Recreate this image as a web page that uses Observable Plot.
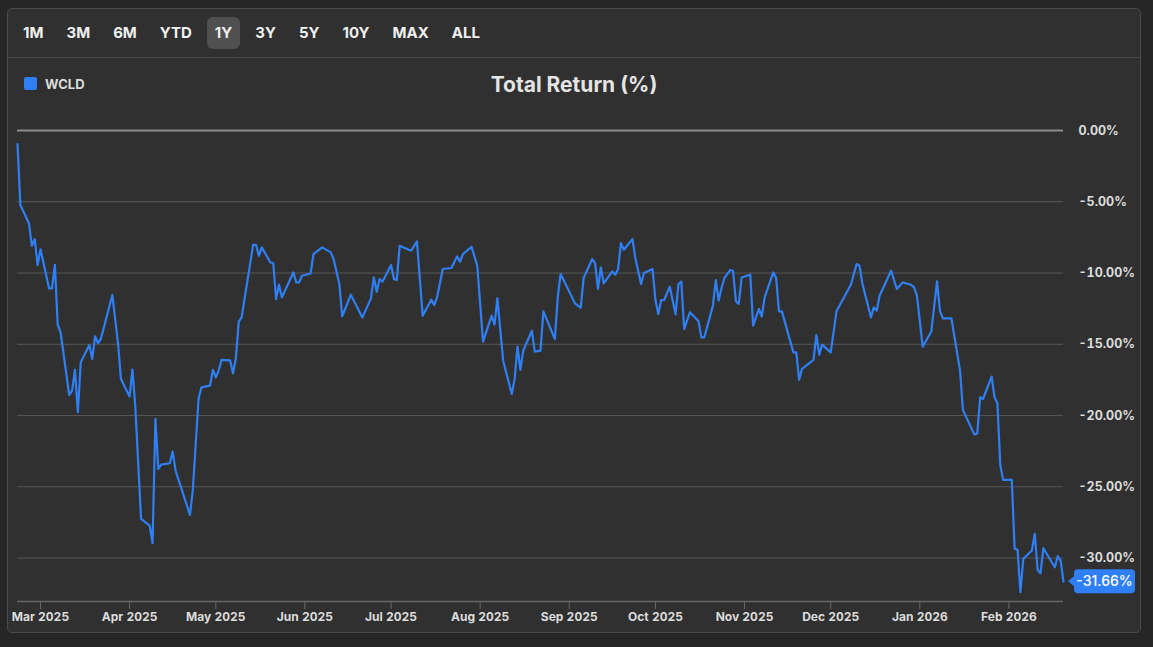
<!DOCTYPE html>
<html>
<head>
<meta charset="utf-8">
<script src="https://cdn.jsdelivr.net/npm/d3@7"></script>
<script src="https://cdn.jsdelivr.net/npm/@observablehq/plot@0.6"></script>
<style>
html,body{margin:0;padding:0;background:#262626;width:1153px;height:647px;overflow:hidden;font-family:Inter,"Noto Sans",sans-serif;}
#panel{position:absolute;left:7px;top:8px;width:1132px;height:623px;background:#303030;border:1px solid #4a4a4a;border-radius:5px;}
#toolbar{position:absolute;left:0;top:0;width:100%;height:48px;border-bottom:1px solid #464646;}
#buttons{position:absolute;left:7px;top:8px;display:flex;gap:7px;}
.btn{height:32px;line-height:32px;padding:0 8px;border-radius:6px;color:#f0f0f0;font-weight:700;font-size:15px;}
.btn.active{background:#505050;}
#legend{position:absolute;left:16px;top:68px;height:13px;display:flex;align-items:center;gap:8px;color:#dcdcdc;font-weight:700;font-size:13px;}
#legend .sw{width:13px;height:13px;border-radius:2px;background:#2f7ff6;}
#title{position:absolute;left:0;width:100%;top:64px;line-height:24px;text-align:center;font-size:21px;font-weight:700;color:#e4e4e4;}
#chart{position:absolute;left:0;top:110px;}
#chart svg text{font-weight:700;}
</style>
</head>
<body>
<div id="panel">
  <div id="toolbar"><div id="buttons"></div></div>
  <div id="legend"><div class="sw"></div><span>WCLD</span></div>
  <div id="title">Total Return (%)</div>
</div>
<div id="chart"></div>
<script>
const ranges = ["1M","3M","6M","YTD","1Y","3Y","5Y","10Y","MAX","ALL"];
const activeRange = "1Y";
const seriesName = "WCLD";

const dates = [
"2025-02-21","2025-02-22","2025-02-25","2025-02-26","2025-02-27","2025-02-28","2025-03-01","2025-03-04","2025-03-05","2025-03-06",
"2025-03-07","2025-03-08","2025-03-11","2025-03-12","2025-03-13","2025-03-14","2025-03-15","2025-03-18","2025-03-19","2025-03-20",
"2025-03-21","2025-03-22","2025-03-26","2025-03-28","2025-03-29","2025-04-01","2025-04-02","2025-04-03","2025-04-05","2025-04-08",
"2025-04-09","2025-04-10","2025-04-11","2025-04-12","2025-04-15","2025-04-16","2025-04-17","2025-04-22","2025-04-23","2025-04-25",
"2025-04-26","2025-04-29","2025-04-30","2025-05-01","2025-05-02","2025-05-03","2025-05-06","2025-05-07","2025-05-08","2025-05-09",
"2025-05-10","2025-05-14","2025-05-15","2025-05-16","2025-05-17","2025-05-20","2025-05-21","2025-05-22","2025-05-23","2025-05-24",
"2025-05-28","2025-05-29","2025-05-30","2025-05-31","2025-06-03","2025-06-04","2025-06-07","2025-06-10","2025-06-11","2025-06-13",
"2025-06-14","2025-06-17","2025-06-21","2025-06-24","2025-06-25","2025-06-26","2025-06-27","2025-06-28","2025-07-01","2025-07-02",
"2025-07-03","2025-07-04","2025-07-08","2025-07-10","2025-07-12","2025-07-15","2025-07-16","2025-07-17","2025-07-19","2025-07-22",
"2025-07-24","2025-07-25","2025-07-26","2025-07-29","2025-07-31","2025-08-02","2025-08-05","2025-08-06","2025-08-07","2025-08-09",
"2025-08-12","2025-08-13","2025-08-14","2025-08-15","2025-08-16","2025-08-19","2025-08-20","2025-08-22","2025-08-23","2025-08-27",
"2025-08-28","2025-08-29","2025-09-03","2025-09-05","2025-09-06","2025-09-09","2025-09-10","2025-09-11","2025-09-12","2025-09-13",
"2025-09-16","2025-09-17","2025-09-18","2025-09-19","2025-09-20","2025-09-23","2025-09-24","2025-09-26","2025-09-27","2025-09-30",
"2025-10-01","2025-10-02","2025-10-03","2025-10-04","2025-10-06","2025-10-08","2025-10-09","2025-10-10","2025-10-11","2025-10-13",
"2025-10-16","2025-10-17","2025-10-18","2025-10-21","2025-10-22","2025-10-23","2025-10-24","2025-10-25","2025-10-27","2025-10-28",
"2025-10-29","2025-10-30","2025-10-31","2025-11-03","2025-11-04","2025-11-06","2025-11-07","2025-11-08","2025-11-11","2025-11-12",
"2025-11-13","2025-11-14","2025-11-18","2025-11-19","2025-11-20","2025-11-21","2025-11-25","2025-11-26","2025-11-27","2025-11-28",
"2025-12-01","2025-12-03","2025-12-08","2025-12-10","2025-12-11","2025-12-12","2025-12-15","2025-12-16","2025-12-17","2025-12-18",
"2025-12-22","2025-12-24","2025-12-26","2025-12-29","2025-12-30","2025-12-31","2026-01-02","2026-01-05","2026-01-07","2026-01-08",
"2026-01-09","2026-01-12","2026-01-15","2026-01-16","2026-01-20","2026-01-21","2026-01-22","2026-01-23","2026-01-26","2026-01-27",
"2026-01-28","2026-01-29","2026-01-30","2026-02-02","2026-02-03","2026-02-04","2026-02-05","2026-02-06","2026-02-09","2026-02-10",
"2026-02-11","2026-02-12","2026-02-13","2026-02-17","2026-02-18","2026-02-19","2026-02-20"
];

const returns = [
-0.95,-5.23,-6.52,-8.09,-7.62,-9.44,-8.34,-11.08,-11.08,-9.42,
-13.63,-14.16,-18.56,-18.25,-16.80,-19.77,-16.27,-15.05,-16.03,-14.44,
-14.91,-14.63,-11.54,-14.98,-17.43,-18.67,-16.78,-19.42,-27.25,-27.72,
-28.96,-20.24,-23.74,-23.44,-23.35,-22.53,-23.86,-26.97,-25.27,-18.84,
-18.02,-17.90,-16.80,-17.32,-16.85,-16.10,-16.13,-17.04,-15.96,-13.42,
-13.11,-8.02,-8.02,-8.79,-8.20,-9.26,-9.30,-11.83,-10.82,-11.71,
-9.96,-10.66,-10.66,-10.19,-10.03,-8.67,-8.20,-8.55,-9.02,-10.77,
-13.04,-11.52,-13.13,-11.78,-10.31,-11.31,-10.42,-10.61,-9.44,-10.42,
-10.49,-8.09,-8.44,-7.78,-12.99,-11.87,-12.25,-11.71,-9.72,-9.65,
-8.83,-9.21,-8.67,-8.16,-9.49,-14.82,-12.99,-13.63,-11.78,-16.15,
-18.49,-17.43,-15.17,-16.80,-15.45,-14.05,-15.52,-15.45,-12.69,-14.63,
-11.71,-10.07,-12.13,-12.45,-10.35,-9.02,-9.30,-11.12,-9.61,-10.73,
-9.89,-10.12,-9.72,-7.90,-8.37,-7.62,-8.95,-10.77,-10.00,-9.72,
-11.90,-12.88,-11.90,-11.90,-10.96,-12.90,-10.77,-10.60,-13.93,-12.76,
-13.39,-14.52,-14.52,-12.29,-10.49,-11.94,-11.05,-10.35,-9.79,-9.84,
-11.99,-12.17,-10.31,-10.12,-13.70,-12.52,-13.06,-11.71,-9.96,-10.35,
-12.69,-12.69,-15.57,-15.57,-17.48,-16.73,-16.10,-14.35,-15.73,-15.03,
-15.57,-12.69,-10.82,-9.37,-9.49,-10.73,-13.11,-12.41,-12.64,-11.59,
-9.84,-11.12,-10.66,-10.82,-11.01,-11.59,-15.17,-14.10,-10.59,-12.64,
-13.18,-13.18,-16.85,-19.61,-21.34,-21.25,-18.72,-18.84,-17.27,-18.72,
-19.14,-23.46,-24.52,-24.52,-29.35,-29.40,-32.40,-30.06,-29.47,-28.30,
-30.83,-31.07,-29.31,-30.65,-29.87,-30.18,-31.66
];

const yTicks = [0,-5,-10,-15,-20,-25,-30];
const xTicks = ["2025-03-01","2025-04-01","2025-05-01","2025-06-01","2025-07-01","2025-08-01","2025-09-01","2025-10-01","2025-11-01","2025-12-01","2026-01-01","2026-02-01"];
const yDomain = [-33.05, 0];

// toolbar
const btns = document.getElementById("buttons");
for (const r of ranges) {
  const b = document.createElement("div");
  b.className = "btn" + (r === activeRange ? " active" : "");
  b.textContent = r;
  btns.appendChild(b);
}
document.querySelector("#legend span").textContent = seriesName;

const data = dates.map((d, i) => ({date: new Date(d), value: returns[i]}));
const last = data[data.length - 1];
const lineColor = "#2f7ff6";

function badge(index, scales, values, dimensions) {
  const yv = scales.y(last.value);
  const xv = scales.x(last.date);
  const x0 = xv + 5;
  const tip = 6, w = 61, h = 24, r = 4;
  const g = d3.create("svg:g");
  g.append("path")
    .attr("d", `M${x0},${yv} L${x0+tip},${yv-5} L${x0+tip},${yv+5} Z`)
    .attr("fill", lineColor);
  g.append("rect")
    .attr("x", x0 + tip).attr("y", yv - h/2)
    .attr("width", w).attr("height", h)
    .attr("rx", r).attr("fill", lineColor);
  g.append("text")
    .attr("x", x0 + tip + w/2).attr("y", yv)
    .attr("dy", "0.36em")
    .attr("text-anchor", "middle")
    .attr("fill", "#ffffff")
    .style("font-size", "14px")
    .style("font-weight", "500")
    .text(last.value.toFixed(2) + "%");
  return g.node();
}

const chart = Plot.plot({
  width: 1153,
  height: 530,
  marginLeft: 17,
  marginRight: 90,
  marginTop: 20,
  marginBottom: 39,
  style: {background: "transparent", color: "#dcdcdc", fontFamily: "Inter, 'Noto Sans', sans-serif", fontSize: "12px", overflow: "visible"},
  x: {type: "utc", domain: [data[0].date, last.date]},
  y: {domain: yDomain},
  marks: [
    Plot.gridY(yTicks.filter(v => v !== 0), {stroke: "#575757", strokeOpacity: 1}),
    Plot.ruleY([0], {stroke: "#8a8a8a", strokeWidth: 2}),
    Plot.ruleY([yDomain[0]], {stroke: "#666666", strokeWidth: 1.5}),
    Plot.axisY({anchor: "right", ticks: yTicks, tickSize: 0, tickPadding: 15, textAnchor: "start",
      tickFormat: d => d.toFixed(2) + "%", fill: "#dcdcdc", fontSize: 12.5, label: null}),
    Plot.axisX({ticks: xTicks.map(d => new Date(d)), tickSize: 8, tickPadding: 3,
      tickFormat: d3.utcFormat("%b %Y"), stroke: "#666666", fill: "#dcdcdc", label: null}),
    Plot.lineY(data, {x: "date", y: "value", stroke: lineColor, strokeWidth: 2.2, curve: "linear"}),
    badge
  ]
});
document.getElementById("chart").appendChild(chart);
</script>
</body>
</html>
